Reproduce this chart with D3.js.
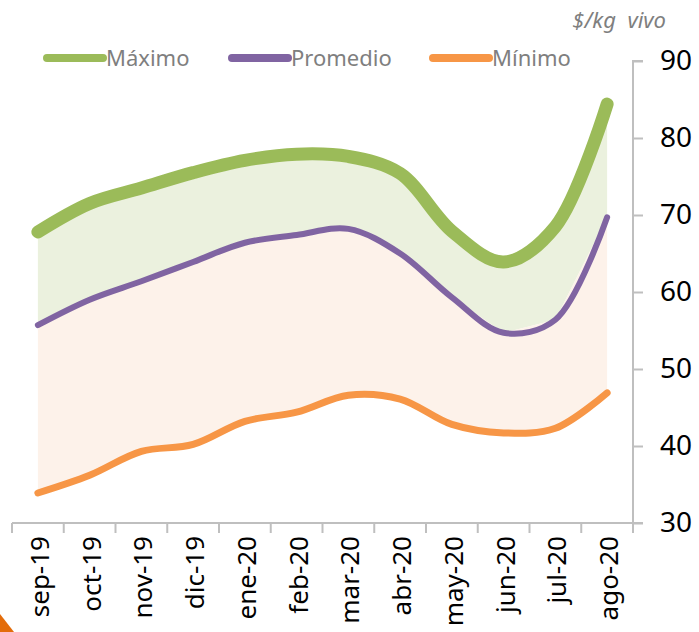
<!DOCTYPE html>
<html>
<head>
<meta charset="utf-8">
<script src="https://cdn.jsdelivr.net/npm/d3@7"></script>
<style>
  body { margin: 0; background: #fff; }
  text { font-family: "Noto Sans", sans-serif; }
</style>
</head>
<body>
<svg id="chart" width="699" height="632"></svg>
<script>
// Months on the x axis
const months = ["sep-19", "oct-19", "nov-19", "dic-19", "ene-20", "feb-20",
  "mar-20", "abr-20", "may-20", "jun-20", "jul-20", "ago-20"];

// $/kg vivo
const maximo = [67.8, 71.5, 73.5, 75.5, 77.1, 77.9, 77.6, 75.4, 67.9, 63.9, 68.5, 84.4];
const promedio = [55.7, 59.0, 61.4, 63.9, 66.4, 67.4, 68.2, 65.0, 59.3, 54.7, 56.4, 69.7];
const minimo = [33.9, 36.2, 39.3, 40.2, 43.2, 44.4, 46.6, 46.1, 42.8, 41.7, 42.3, 46.9];

const yTicks = [30, 40, 50, 60, 70, 80, 90];

const svg = d3.select("#chart");

const x = d3.scaleBand()
    .domain(months)
    .range([12, 633]);
const y = d3.scaleLinear()
    .domain([30, 90])
    .range([523, 61]);

const cx = m => x(m) + x.bandwidth() / 2;

const rows = months.map((m, i) => ({ m, max: maximo[i], prom: promedio[i], min: minimo[i] }));

// shaded bands (plain straight area like excel)
const bandGreen = d3.area()
    .x(d => cx(d.m))
    .y0(d => y(d.prom))
    .y1(d => y(d.max));
const bandPeach = d3.area()
    .x(d => cx(d.m))
    .y0(d => y(d.min))
    .y1(d => y(d.prom));

svg.append("path").datum(rows).attr("d", bandGreen).attr("fill", "#ebf1de");
svg.append("path").datum(rows).attr("d", bandPeach).attr("fill", "#fdf2ea");

// axes
const grey = "#bfbfbf";
const xAxis = svg.append("g").attr("class", "x-axis");
xAxis.append("line")
    .attr("x1", 12).attr("x2", 643)
    .attr("y1", 523).attr("y2", 523)
    .attr("stroke", grey).attr("stroke-width", 2);
xAxis.selectAll(".xtick")
    .data(months.concat(["end"]))
    .join("line")
    .attr("class", "xtick")
    .attr("x1", (d, i) => i < months.length ? x(d) : x.range()[1])
    .attr("x2", (d, i) => i < months.length ? x(d) : x.range()[1])
    .attr("y1", 523).attr("y2", 533)
    .attr("stroke", grey).attr("stroke-width", 2);
xAxis.selectAll(".xlabel")
    .data(months)
    .join("text")
    .attr("class", "xlabel")
    .attr("transform", d => `translate(${cx(d) + 2},536) rotate(-90)`)
    .attr("text-anchor", "end")
    .attr("dy", "0.35em")
    .attr("font-size", "26px")
    .attr("fill", "#000")
    .text(d => d);

const yAxis = svg.append("g")
    .attr("class", "y-axis")
    .attr("transform", "translate(633,0)")
    .call(d3.axisRight(y).tickValues(yTicks).tickSize(10).tickPadding(17));
yAxis.select(".domain").attr("stroke", grey).attr("stroke-width", 2)
    .attr("d", `M10,${y(90)}H0V${y(30) + 10}`);
yAxis.selectAll(".tick line").attr("stroke", grey).attr("stroke-width", 2);
yAxis.selectAll(".tick text")
    .attr("font-size", "28px")
    .attr("font-family", "Noto Sans, sans-serif")
    .attr("fill", "#000");

// series lines
const smooth = d3.line()
    .x(d => cx(d.m))
    .y(d => y(d.v))
    .curve(d3.curveCatmullRom.alpha(0.5));

const series = [
  { name: "Máximo", values: maximo, color: "#9bbb59", width: 13 },
  { name: "Promedio", values: promedio, color: "#8064a2", width: 6 },
  { name: "Mínimo", values: minimo, color: "#f79646", width: 7 }
];

series.forEach(s => {
    svg.append("path")
        .datum(months.map((m, i) => ({ m, v: s.values[i] })))
        .attr("d", smooth)
        .attr("fill", "none")
        .attr("stroke", s.color)
        .attr("stroke-width", s.width)
        .attr("stroke-linecap", "round")
        .attr("stroke-linejoin", "round");
});

// legend
const legendX = [47, 232, 433];
const legend = svg.selectAll(".legend")
    .data(series)
    .join("g")
    .attr("class", "legend")
    .attr("transform", (d, i) => `translate(${legendX[i]},58)`);
legend.append("line")
    .attr("x1", 0).attr("x2", 56)
    .attr("stroke", d => d.color)
    .attr("stroke-width", 8)
    .attr("stroke-linecap", "round");
legend.append("text")
    .attr("x", 59)
    .attr("dy", "0.35em")
    .attr("font-size", "22px")
    .attr("fill", "#7f7f7f")
    .text(d => d.name);

// unit label
svg.append("text")
    .attr("x", 666)
    .attr("y", 28)
    .attr("text-anchor", "end")
    .attr("font-size", "22px")
    .attr("font-style", "italic")
    .attr("fill", "#7f7f7f")
    .attr("xml:space", "preserve")
    .text("$/kg  vivo");

// small orange corner mark
svg.append("path")
    .attr("d", "M0,614 L14,632 L0,632 Z")
    .attr("fill", "#e36c0a");
</script>
</body>
</html>
